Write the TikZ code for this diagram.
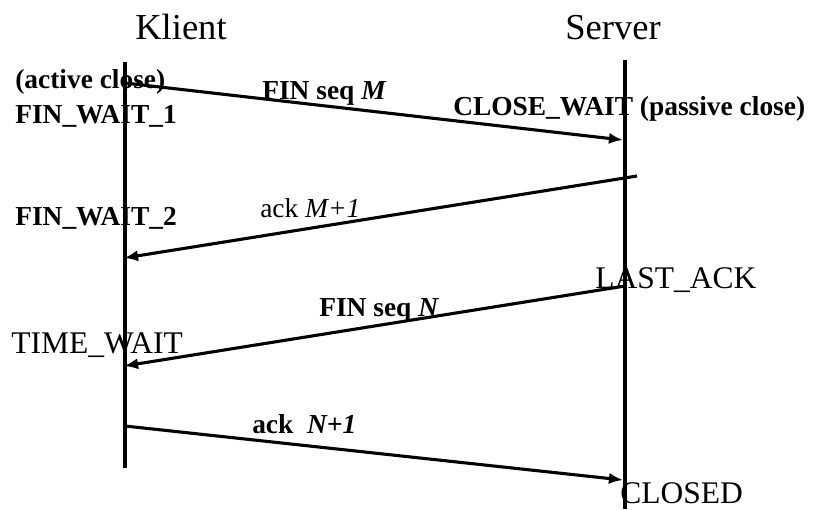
\documentclass[tikz,border=0pt]{standalone}
\usepackage{fontspec}
\setmainfont{Liberation Serif}
\usetikzlibrary{arrows.meta}
\tikzstyle{life_line} = [line width=2.6pt]
\tikzstyle{msg_line} = [line width=2.2pt, -{Latex[length=10pt,width=8pt]}]
\tikzstyle{title_text} = [inner sep=0pt, anchor=base west, font=\fontsize{26}{28}\selectfont]
\tikzstyle{state_text} = [inner sep=0pt, anchor=base west, font=\fontsize{22.4}{24}\selectfont]
\tikzstyle{label_bold} = [inner sep=0pt, anchor=base west, font=\fontsize{19.5}{21}\selectfont\bfseries]
\tikzstyle{label_plain} = [inner sep=0pt, anchor=base west, font=\fontsize{19.5}{21}\selectfont]

\begin{document}
\begin{tikzpicture}[x=0.025cm, y=-0.025cm]
			\useasboundingbox (0,0) rectangle (814,509);
			% lifelines
			\coordinate (ktop) at (125,62);
			\coordinate (kbot) at (125,468);
			\coordinate (stop) at (625,60);
			\coordinate (sbot) at (625,509);
			\draw[life_line] (ktop)--(kbot);
			\draw[life_line] (stop)--(sbot);
			% message ends
			\coordinate (k1) at (125,83);
			\coordinate (s1) at (623,140);
			\coordinate (s2) at (637,176);
			\coordinate (k2) at (124,258);
			\coordinate (s3) at (625,286);
			\coordinate (k3) at (124,366);
			\coordinate (k4) at (125,426);
			\coordinate (s4) at (623,480);
			% texts
			\node (klient) at (135,39) [title_text] {Klient};
			\node (server) at (565,39) [title_text] {Server};
			\node (active) at (15,88) [label_bold] {(active close)};
			\node (finwait1) at (15,123) [label_bold] {FIN\_WAIT\_1};
			\node (finm) at (262,99) [label_bold] {FIN seq \textit{M}};
			\node (closewait) at (453,115) [label_bold] {CLOSE\_WAIT (passive close)};
			\node (finwait2) at (15,225) [label_bold] {FIN\_WAIT\_2};
			\node (ackm) at (260,217) [label_plain] {ack \textit{M+1}};
			\node (lastack) at (595,288) [state_text] {LAST\_ACK};
			\node (finn) at (319,316) [label_bold] {FIN seq \textit{N}};
			\node (timewait) at (11,353) [state_text] {TIME\_WAIT};
			\node (ackn) at (252,433) [label_bold] {ack \ \textit{N+1}};
			\node (closed) at (620,503) [state_text] {CLOSED};
			% messages
			\draw[msg_line] (k1)--(s1);
			\draw[msg_line] (s2)--(k2);
			\draw[msg_line] (s3)--(k3);
			\draw[msg_line] (k4)--(s4);
		\end{tikzpicture}
\end{document}
